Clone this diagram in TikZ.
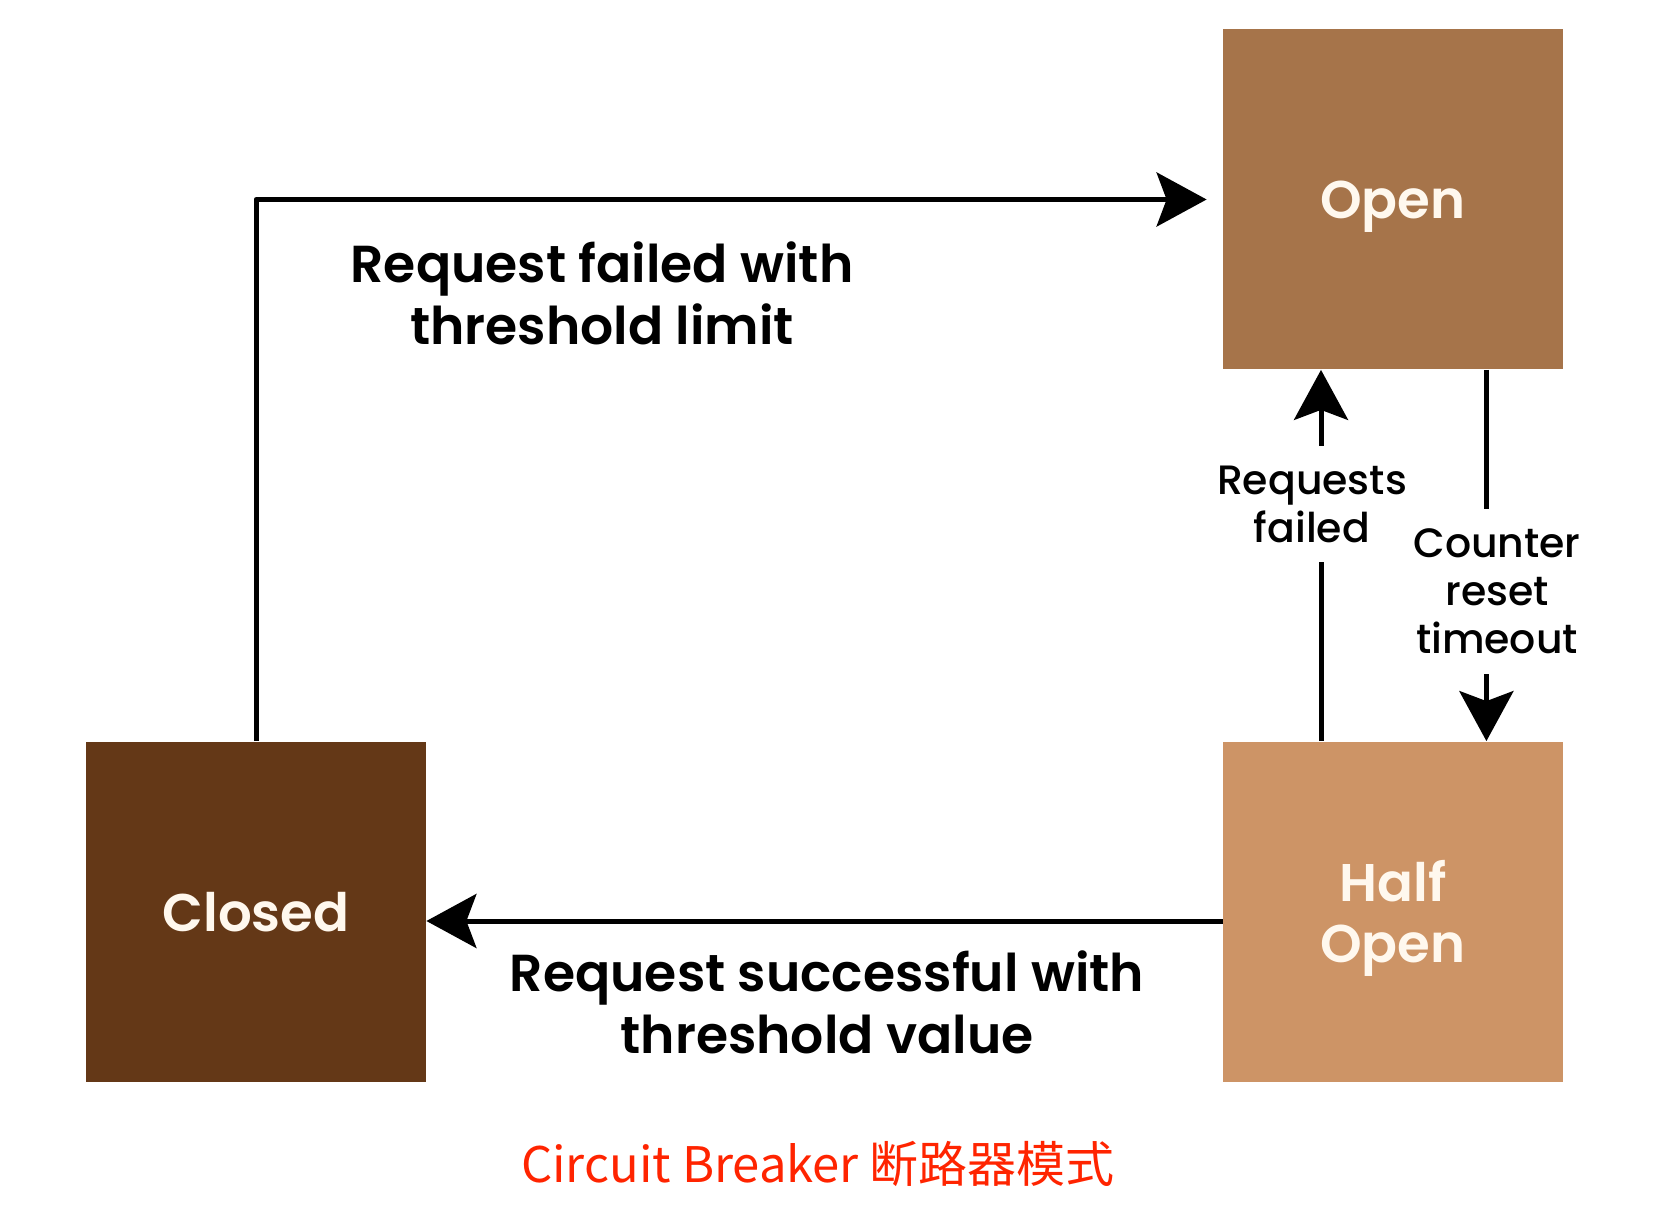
\documentclass[tikz,border=0pt]{standalone}
\usepackage{fontspec}
\setmainfont{Poppins}
\newfontfamily\popsemi{Poppins SemiBold}
\newfontfamily\popmed{Poppins Medium}
\newfontfamily\cjk{Noto Sans CJK SC}
\usetikzlibrary{arrows.meta}
\definecolor{openbrown}{HTML}{A6744A}
\definecolor{closedbrown}{HTML}{643817}
\definecolor{halfbrown}{HTML}{CD9466}
\definecolor{boxtext}{HTML}{FFF8EE}
\definecolor{captionred}{HTML}{FF2400}
\tikzset{
  state/.style={minimum width=170pt, minimum height=170pt, inner sep=0pt, text depth=0pt,
    text=boxtext, align=center, font=\popsemi\fontsize{26.5}{30.5}\selectfont},
  conn/.style={line width=2.5pt, -{Stealth[length=25pt, width=27pt, inset=5pt]}},
  biglabel/.style={align=center, font=\popsemi\fontsize{26}{31}\selectfont},
  sidelabel/.style={align=center, fill=white, inner xsep=2pt, inner ysep=10pt,
    font=\popmed\fontsize{20.5}{24}\selectfont}
}
\begin{document}
\begin{tikzpicture}[x=0.5pt, y=-0.5pt, line join=round]
\useasboundingbox (0,0) rectangle (1664,1218);

% the three states
\node[state, fill=openbrown] (open) at (1393,199.5) {Open};
\node[state, fill=closedbrown] (closed) at (256,911.5) {Closed};
\node[state, fill=halfbrown] (half) at (1393,911.5) {Half\\Open};

% transitions
\draw[conn, shorten >=8pt] (closed.north) |- (open.west);
\draw[conn] ([yshift=-4.75pt]half.west) -- ([yshift=-4.75pt]closed.east);
\draw[conn] ([xshift=-36pt]half.north) -- ([xshift=-36pt]open.south);
\draw[conn] ([xshift=46.7pt]open.south) -- ([xshift=46.7pt]half.north);

% labels
\node[biglabel] (failtext) at (602,293) {Request failed with\\threshold limit};
\node[biglabel] (succtext) at (827,1002) {Request successful with\\threshold value};
\node[sidelabel] (reqtext) at (1312,504) {Requests\\failed};
\node[sidelabel] (resettext) at (1497,591.5) {Counter\\reset\\timeout};

\node[font=\cjk\fontsize{24.5}{28}\selectfont, text=captionred, anchor=base]
  (caption) at (818,1182) {Circuit Breaker 断路器模式};
\end{tikzpicture}
\end{document}
